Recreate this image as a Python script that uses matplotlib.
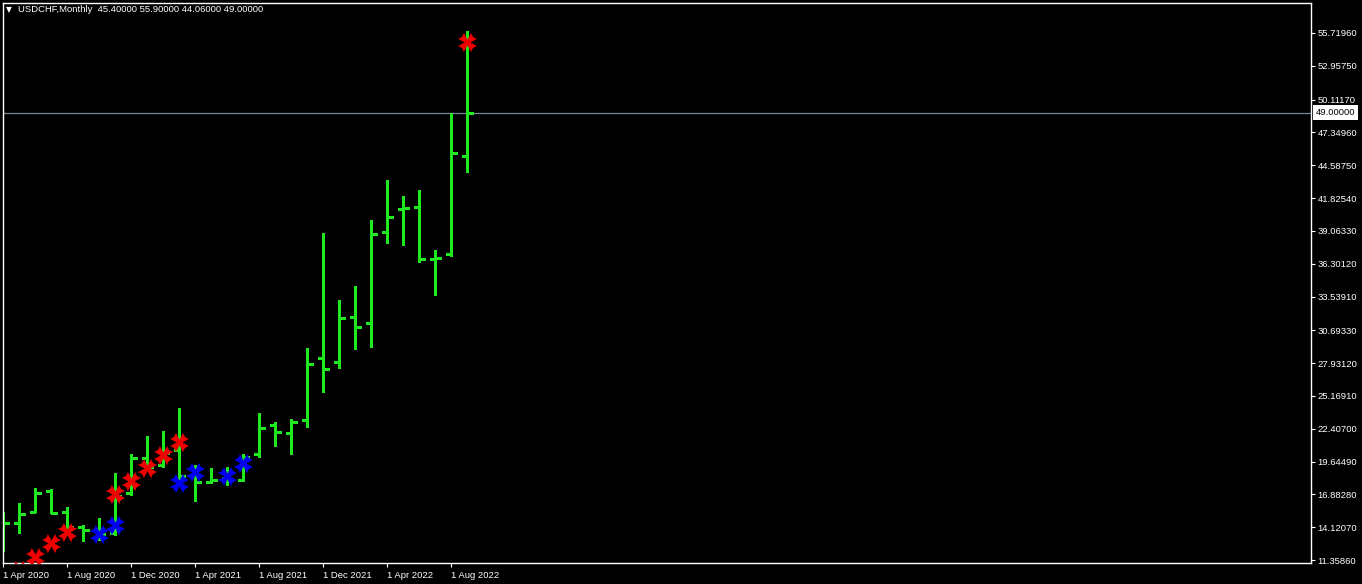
import matplotlib
matplotlib.use("Agg")
import matplotlib.pyplot as plt
import matplotlib.transforms as mtransforms
from matplotlib.path import Path
import numpy as np

# ---------------- data ----------------
symbol_title = "USDCHF,Monthly  45.40000 55.90000 44.06000 49.00000"

months = ["Apr 2020", "May 2020", "Jun 2020", "Jul 2020", "Aug 2020", "Sep 2020",
          "Oct 2020", "Nov 2020", "Dec 2020", "Jan 2021", "Feb 2021", "Mar 2021",
          "Apr 2021", "May 2021", "Jun 2021", "Jul 2021", "Aug 2021", "Sep 2021",
          "Oct 2021", "Nov 2021", "Dec 2021", "Jan 2022", "Feb 2022", "Mar 2022",
          "Apr 2022", "May 2022", "Jun 2022", "Jul 2022", "Aug 2022", "Sep 2022"]

opens = [14.60, 14.45, 15.42, 17.19, 15.42, 14.16, 13.97, 13.61, 17.02, 19.97,
         19.35, 20.62, 18.43, 17.95, 18.22, 18.09, 20.26, 22.70, 22.07, 23.17,
         28.36, 28.03, 31.84, 31.33, 38.99, 40.90, 41.10, 36.72, 37.12, 45.40]
highs = [15.42, 16.18, 17.39, 17.31, 15.79, 14.30, 14.87, 18.66, 20.26, 21.80,
         22.22, 24.13, 19.35, 19.08, 19.21, 20.26, 23.71, 23.00, 23.20, 29.18,
         38.86, 33.24, 34.42, 39.98, 43.35, 42.00, 42.50, 37.45, 48.96, 55.90]
lows = [12.14, 13.66, 15.37, 15.29, 13.61, 12.98, 13.04, 13.46, 16.83, 19.08,
        19.21, 17.67, 16.35, 17.81, 17.67, 18.01, 20.00, 20.98, 20.26, 22.53,
        25.47, 27.55, 29.14, 29.31, 38.07, 37.87, 36.47, 33.66, 36.97, 44.06]
closes = [14.50, 15.26, 17.02, 15.34, 14.16, 13.88, 13.55, 16.75, 19.97, 19.21,
          20.39, 18.43, 17.95, 18.09, 18.09, 20.03, 22.49, 22.16, 22.97, 27.88,
          27.44, 31.75, 31.00, 38.80, 40.26, 41.01, 36.70, 36.80, 45.64, 49.00]

red_marks_idx = [1, 2, 3, 4, 7, 8, 9, 10, 11, 29]
red_marks_val = [10.55, 11.64, 12.76, 13.74, 16.91, 18.01, 19.14, 20.20, 21.32, 54.99]
blue_marks_idx = [6, 7, 11, 12, 14, 15]
blue_marks_val = [13.55, 14.30, 17.84, 18.79, 18.47, 19.51]

xtick_idx = [0, 4, 8, 12, 16, 20, 24, 28]
xtick_labels = ["1 Apr 2020", "1 Aug 2020", "1 Dec 2020", "1 Apr 2021",
                "1 Aug 2021", "1 Dec 2021", "1 Apr 2022", "1 Aug 2022"]

ytick_vals = [11.35860, 14.12070, 16.88280, 19.64490, 22.40700, 25.16910,
              27.93120, 30.69330, 33.53910, 36.30120, 39.06330, 41.82540,
              44.58750, 47.34960, 50.11170, 52.95750, 55.71960]
current_price = 49.00000

# ---------------- style ----------------
BG = "black"
GREEN = "#1FEA1F"
RED = "#F00000"
BLUE = "#0000F0"
FONT = "Liberation Sans"
FS = 6.8

W, H = 1362, 584
fig = plt.figure(figsize=(W / 100, H / 100), dpi=100, facecolor=BG)
left_px, right_px, top_px, bot_px = 3, 1311, 3, 563
ax = fig.add_axes([left_px / W, (H - bot_px) / H,
                   (right_px - left_px) / W, (bot_px - top_px) / H])
ax.set_facecolor(BG)

x = np.arange(len(months))
tick_w = 0.33
lw = 1.8

# horizontal current price line
ax.axhline(current_price, color="#778899", lw=0.9, zorder=1)

ax.vlines(x, lows, highs, color=GREEN, lw=lw, zorder=2, antialiased=False)
ax.hlines(opens, x - tick_w, x, color=GREEN, lw=lw, zorder=2, antialiased=False)
ax.hlines(closes, x, x + tick_w, color=GREEN, lw=lw, zorder=2, antialiased=False)

# flared X marker (arms with concave flared ends)
verts = []
for k in range(4):
    th = np.deg2rad(45 + 90 * k)
    verts.append((0.27 * np.cos(th - np.pi / 4), 0.27 * np.sin(th - np.pi / 4)))
    for a, r in [(-0.40, 1.0), (-0.2, 0.84), (0.0, 0.80), (0.2, 0.84), (0.40, 1.0)]:
        verts.append((r * np.cos(th + a), r * np.sin(th + a)))
verts.append(verts[0])
codes = [Path.MOVETO] + [Path.LINETO] * (len(verts) - 2) + [Path.CLOSEPOLY]
xmark = Path(verts, codes)

ax.plot(red_marks_idx, red_marks_val, ls="none", marker=xmark, ms=13,
        color=RED, mec=RED, mew=0.3, zorder=3)
ax.plot(blue_marks_idx, blue_marks_val, ls="none", marker=xmark, ms=13,
        color=BLUE, mec=BLUE, mew=0.3, zorder=3)

# limits from pixel geometry
px_per_bar = 16.0
x0_px = 3.3
ax.set_xlim((left_px - x0_px) / px_per_bar, (right_px - x0_px) / px_per_bar)
ppu = 527.0 / (55.7196 - 11.3586)
ax.set_ylim(11.3586 - (bot_px - 560) / ppu, 11.3586 + (560 - top_px) / ppu)

for s in ax.spines.values():
    s.set_color("white")
    s.set_linewidth(1.0)

ax.yaxis.tick_right()
ax.set_yticks(ytick_vals)
ax.set_yticklabels([f"{v:.5f}" for v in ytick_vals])
ax.set_xticks(xtick_idx)
ax.set_xticklabels(xtick_labels)
ax.tick_params(axis="both", colors="white", labelcolor="white", length=3,
               width=0.8, labelsize=FS, direction="out")
ax.tick_params(axis="y", pad=1.6)
ax.tick_params(axis="x", pad=2.5)
for lab in ax.get_xticklabels():
    lab.set_horizontalalignment("left")
    lab.set_fontfamily(FONT)
for lab in ax.get_yticklabels():
    lab.set_fontfamily(FONT)

# current price label
trans = mtransforms.blended_transform_factory(ax.transAxes, ax.transData)
off = mtransforms.offset_copy(trans, fig=fig, x=3.6, y=0, units="points")
ax.text(1.0, current_price, f"{current_price:.5f}", transform=off, ha="left",
        va="center", color="black", fontsize=FS, family=FONT,
        bbox=dict(boxstyle="square,pad=0.3", fc="white", ec="none"))

# title
fig.text(6 / W, 1 - 10 / H, "▼", color="white", fontsize=5.5,
         family="DejaVu Sans", ha="left", va="center")
fig.text(18 / W, 1 - 10 / H, symbol_title, color="white", fontsize=FS,
         family=FONT, ha="left", va="center")

fig.savefig("out.png", dpi=100, facecolor=BG)
